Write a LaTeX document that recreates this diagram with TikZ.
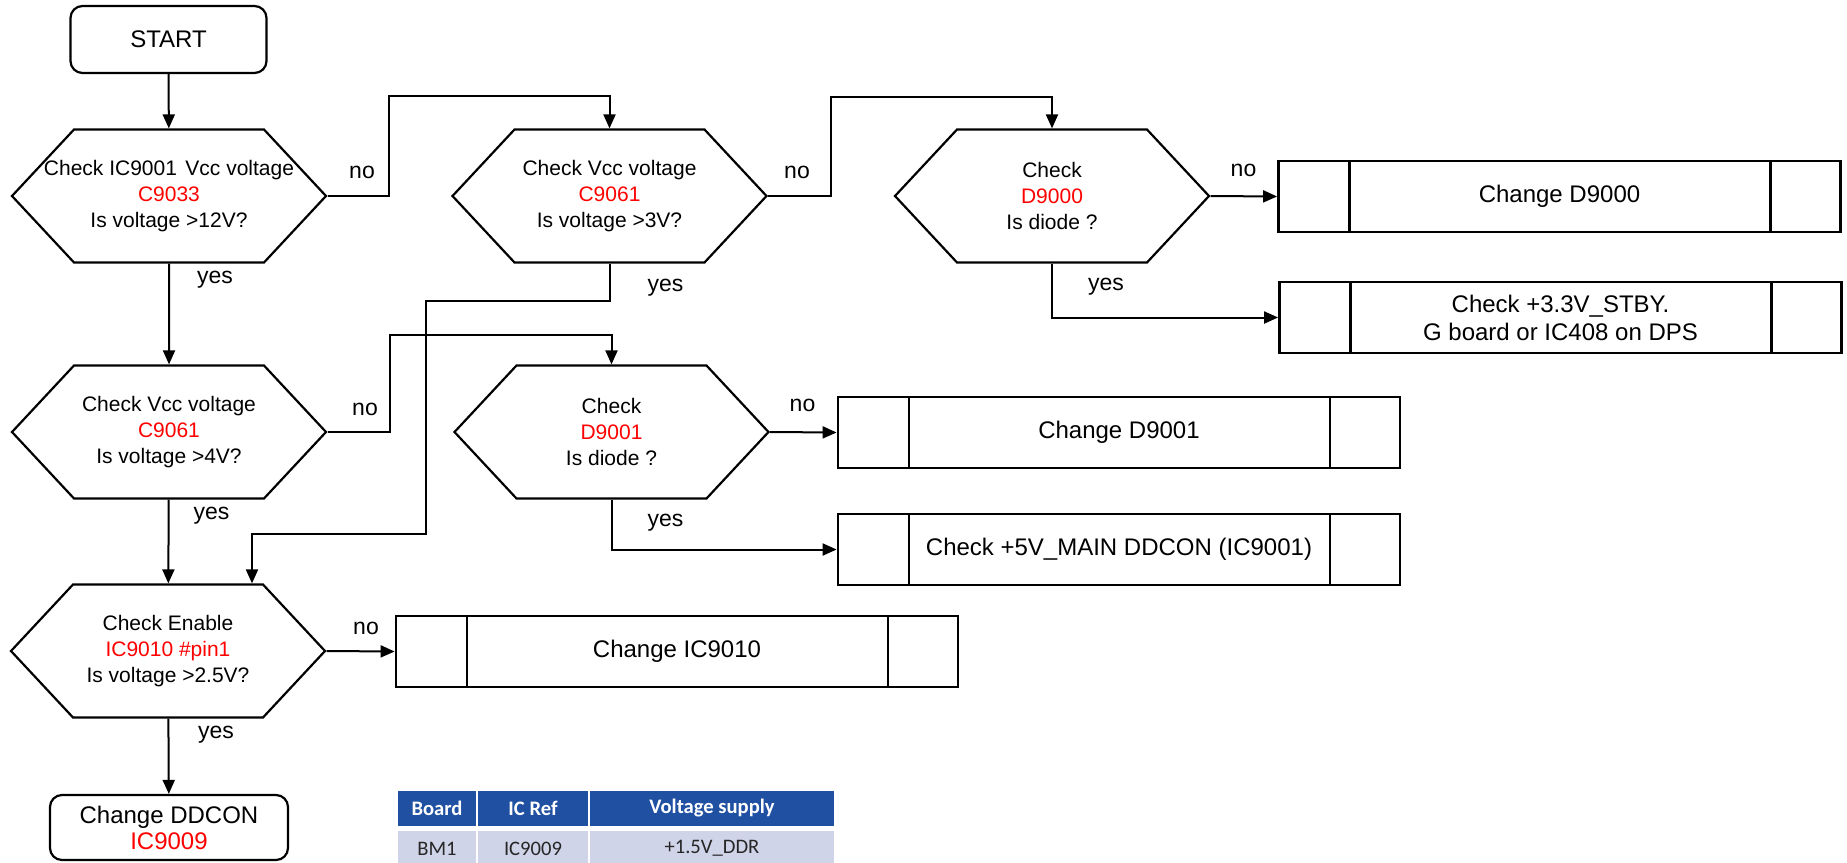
\documentclass[tikz,border=0pt]{standalone}
\usepackage{fontspec}
\setmainfont{Liberation Sans}
\newfontfamily\tablefont{Carlito}
\usetikzlibrary{arrows.meta,shapes.symbols,calc}
\definecolor{hdrblue}{RGB}{31,80,162}
\definecolor{rowgrey}{RGB}{207,212,232}

\begin{document}
\begin{tikzpicture}[x=0.5pt,y=-0.5pt,line width=1pt,
    arr/.style={-{Triangle[length=7pt,width=6pt]}},
    decision/.style={signal, signal to=west and east, signal pointer angle=94,
        draw, line width=1.1pt, minimum width=157pt, minimum height=66.5pt,
        inner xsep=-30pt, inner ysep=0pt, align=center,
        font=\fontsize{10.5}{12.8}\selectfont,
        execute at begin node=\rule{0pt}{11.6pt}},
    process/.style={rectangle, draw, line width=1.4pt, minimum width=281pt,
        minimum height=35.5pt, inner sep=0pt, align=center,
        font=\fontsize{12}{14}\selectfont,
        path picture={\draw[line width=1.2pt]
            ([xshift=35.5pt]path picture bounding box.north west) -- ([xshift=35.5pt]path picture bounding box.south west)
            ([xshift=-35pt]path picture bounding box.north east) -- ([xshift=-35pt]path picture bounding box.south east);}},
    terminal/.style={rectangle, rounded corners=6pt, draw, line width=1.1pt,
        inner sep=0pt, align=center, font=\fontsize{12}{13}\selectfont},
    answer/.style={inner sep=0pt, font=\fontsize{11.5}{13}\selectfont},
    hcell/.style={fill=hdrblue, text=white, inner sep=0pt, minimum height=17.5pt,
        font=\tablefont\fontsize{10.3}{12}\selectfont\bfseries},
    rcell/.style={fill=rowgrey, text=black!85, inner sep=0pt, minimum height=17.5pt,
        font=\tablefont\fontsize{10.3}{12}\selectfont}]
    \useasboundingbox (0,0) rectangle (1847,862);
    %%Left column
    \node[terminal, minimum width=98pt, minimum height=33.5pt] (start) at (168.5,39.5) {START};
    \node[decision] (d1) at (169,196) {Check IC9001\hspace{0.4em}Vcc voltage\\\textcolor{red}{C9033}\\Is voltage >12V?};
    \node[decision] (d2) at (169,432) {Check Vcc voltage\\\textcolor{red}{C9061}\\Is voltage >4V?};
    \node[decision] (d6) at (168,651) {Check Enable\\\textcolor{red}{IC9010 \#pin1}\\Is voltage >2.5V?};
    \node[terminal, minimum width=119pt, minimum height=32.5pt] (stop) at (169,827.5) {Change DDCON\\\textcolor{red}{IC9009}};
    %%Middle and right
    \node[decision] (d3) at (609.5,196) {Check Vcc voltage\\\textcolor{red}{C9061}\\Is voltage >3V?};
    \node[decision] (d4) at (1052,196) {Check\\\textcolor{red}{D9000}\\Is diode ?};
    \node[decision] (d5) at (611.5,432) {Check\\\textcolor{red}{D9001}\\Is diode ?};
    \node[process] (p1) at (1559.5,196.5) {Change D9000};
    \node[process] (p2) at (1560.5,317.5) {Check +3.3V\_STBY.\\G board or IC408 on DPS};
    \node[process] (p3) at (1119,432.5) {Change D9001};
    \node[process] (p4) at (1119,549.5) {Check +5V\_MAIN DDCON (IC9001)};
    \node[process] (p5) at (677,651.5) {Change IC9010};
    %%Bends
    \coordinate (n1) at (389,96);
    \coordinate (n2) at (831,97);
    \coordinate (k1) at (426,301);
    \coordinate (k2) at (252,534);
    \coordinate (n3) at (390,335);
    %%Connectors
    \draw[arr] (start) -- (d1);
    \draw[arr] (d1) -- (d2);
    \draw[arr] (d2) -- (d6);
    \draw[arr] (d6) -- (stop);
    \draw[arr] (d1.east) -| (n1) -| (d3.north);
    \draw[arr] (d3.east) -| (n2) -| (d4.north);
    \draw[arr] (d4.east) -- (p1.west);
    \draw[arr] (d4.south) |- (p2.west);
    \draw[arr] (d3.south) |- (k1) |- (k2) -- (k2 |- d6.north);
    \draw[arr] (d2.east) -| (n3) -| (d5.north);
    \draw[arr] (d5.east) -- (p3.west);
    \draw[arr] (d5.south) |- (p4.west);
    \draw[arr] (d6.east) -- (p5.west);
    %%Answers
    \node[answer] (no1) at (362,172) {no};
    \node[answer] (no2) at (797,172) {no};
    \node[answer] (no3) at (1243.5,170) {no};
    \node[answer] (no4) at (365,409) {no};
    \node[answer] (no5) at (802.5,405) {no};
    \node[answer] (no6) at (366,628) {no};
    \node[answer] (yes1) at (215,280) {yes};
    \node[answer] (yes2) at (665.5,288) {yes};
    \node[answer] (yes3) at (1106,287) {yes};
    \node[answer] (yes4) at (211.5,516) {yes};
    \node[answer] (yes5) at (665.5,523) {yes};
    \node[answer] (yes6) at (216,735) {yes};
    %%Table
    \node[hcell, minimum width=39pt] (h1) at (437,808.5) {Board};
    \node[hcell, minimum width=55pt] (h2) at (533,808.5) {IC Ref};
    \node[hcell, minimum width=122pt] (h3) at (712,808.5) {Voltage supply};
    \node[rcell, minimum width=39pt] (r1) at (437,848.5) {BM1};
    \node[rcell, minimum width=55pt] (r2) at (533,848.5) {IC9009};
    \node[rcell, minimum width=122pt] (r3) at (712,848.5) {+1.5V\_DDR};
\end{tikzpicture}
\end{document}
